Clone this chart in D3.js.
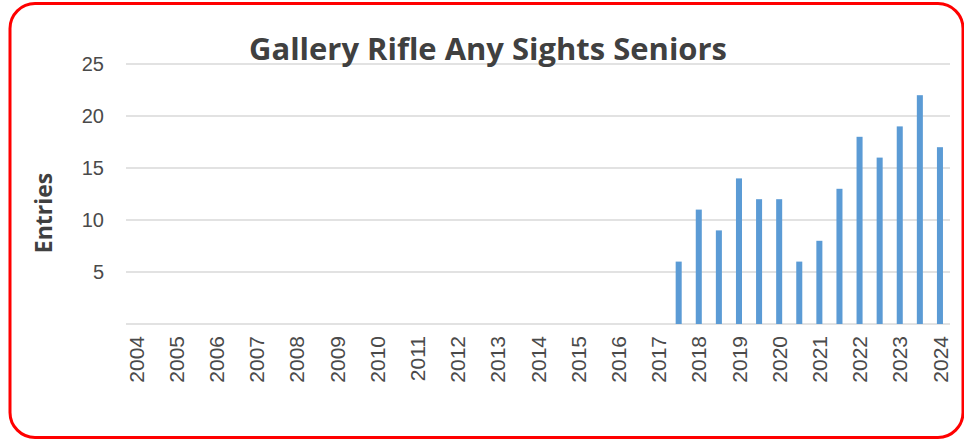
<!DOCTYPE html>
<html>
<head>
<meta charset="utf-8">
<script src="https://cdn.jsdelivr.net/npm/d3@7"></script>
<style>
  body { margin: 0; background: #fff; }
  svg { display: block; }
</style>
</head>
<body>
<div id="chart"></div>
<script>
// datos del grafico
var title = "Gallery Rifle Any Sights Seniors";
var yLabel = "Entries";
var years = ["2004", "2005", "2006", "2007", "2008", "2009", "2010", "2011", "2012", "2013",
             "2014", "2015", "2016", "2017", "2018", "2019", "2020", "2021", "2022", "2023", "2024"];
// two competitions a year: the second one sits between the year labels
var periods = ["2017.5", "2018", "2018.5", "2019", "2019.5", "2020", "2020.5",
               "2021", "2021.5", "2022", "2022.5", "2023", "2023.5", "2024"];
var entries = [6, 11, 9, 14, 12, 12, 6, 8, 13, 18, 16, 19, 22, 17];
var yTicks = [5, 10, 15, 20, 25];

var W = 964, H = 439;
var margin = { top: 64, right: 14, bottom: 115, left: 126 };
var width = W - margin.left - margin.right,
    height = H - margin.top - margin.bottom;

// slots: every year plus the half-year between it and the next one
var slots = [];
years.forEach(function(y, i) {
    slots.push(y);
    if (i < years.length - 1) slots.push(y + ".5");
});

var data = periods.map(function(p, i) { return { periodo: p, valor: entries[i] }; });

var svg = d3.select("#chart").append("svg")
    .attr("width", W)
    .attr("height", H);

// marco rojo
svg.append("rect")
    .attr("x", 10).attr("y", 3.5)
    .attr("width", 953).attr("height", 434)
    .attr("rx", 25).attr("ry", 25)
    .attr("fill", "none")
    .attr("stroke", "#ff0000")
    .attr("stroke-width", 3);

var g = svg.append("g")
    .attr("transform", "translate(" + margin.left + "," + margin.top + ")");

var x = d3.scaleBand().domain(slots).range([0, width]).paddingInner(0.7).paddingOuter(0.35);
var y = d3.scaleLinear().domain([0, 25]).range([height, 0]);

// grid
g.selectAll(".grid")
    .data([0].concat(yTicks))
    .enter().append("line")
    .attr("x1", 0).attr("x2", width)
    .attr("y1", function(d) { return y(d); })
    .attr("y2", function(d) { return y(d); })
    .attr("stroke", "#d9d9d9")
    .attr("stroke-width", 1.5);

// eje y
var yAxis = g.append("g")
    .call(d3.axisLeft(y).tickValues(yTicks).tickSize(0).tickPadding(22));
yAxis.select(".domain").remove();
yAxis.selectAll("text")
    .attr("fill", "#4a4a4a")
    .style("font-family", "'Liberation Sans', Arial, sans-serif")
    .style("font-size", "20px");

// eje x
var xAxis = g.append("g")
    .attr("transform", "translate(0," + height + ")")
    .call(d3.axisBottom(x).tickValues(years).tickSize(0));
xAxis.select(".domain").remove();
xAxis.selectAll("text")
    .attr("fill", "#4a4a4a")
    .style("font-family", "'Liberation Sans', Arial, sans-serif")
    .style("font-size", "21px")
    .style("text-anchor", "end")
    .attr("transform", "rotate(-90)")
    .attr("x", -12)
    .attr("y", 0)
    .attr("dy", "0.36em");

// barras
g.selectAll(".bar")
    .data(data)
    .enter().append("rect")
    .attr("class", "bar")
    .attr("x", function(d) { return x(d.periodo); })
    .attr("width", x.bandwidth())
    .attr("y", function(d) { return y(d.valor); })
    .attr("height", function(d) { return height - y(d.valor); })
    .attr("fill", "#5b9bd5");

// titulo
var t = svg.append("text")
    .attr("x", 488).attr("y", 60)
    .attr("text-anchor", "middle")
    .attr("fill", "#404040")
    .style("font-family", "'Open Sans', sans-serif")
    .style("font-weight", "bold")
    .style("font-size", "28px")
    .text(title);
// ajustar ancho al de la referencia
var tw = t.node().getComputedTextLength();
t.style("font-size", (28 * 478 / tw) + "px");

svg.append("text")
    .attr("transform", "translate(52,213) rotate(-90)")
    .attr("text-anchor", "middle")
    .attr("fill", "#404040")
    .style("font-family", "'Open Sans', sans-serif")
    .style("font-weight", "bold")
    .style("font-size", "23px")
    .text(yLabel);
</script>
</body>
</html>
